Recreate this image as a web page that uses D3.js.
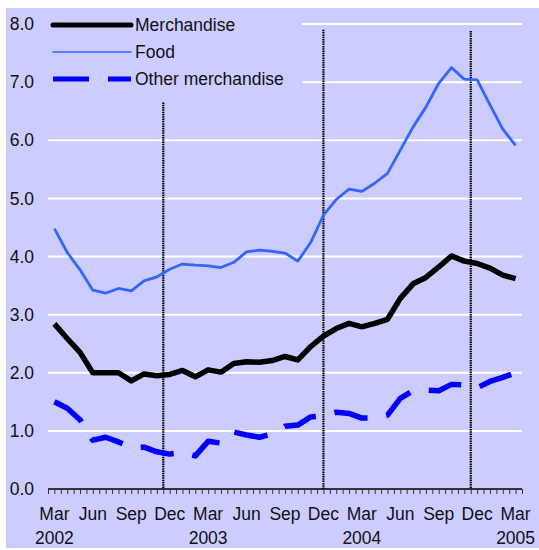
<!DOCTYPE html>
<html lang="en">
<head>
<meta charset="utf-8">
<title>Merchandise, food and other merchandise</title>
<script src="https://cdn.jsdelivr.net/npm/d3@7"></script>
<style>
  body { margin: 0; background: #fff; }
  text { font-family: "Liberation Sans", Arial, sans-serif; fill: #111; }
</style>
</head>
<body>
<div id="chart"></div>
<script>
// monthly observations, Mar 2002 .. Mar 2005
var months = ["Mar 2002","Apr 2002","May 2002","Jun 2002","Jul 2002","Aug 2002","Sep 2002","Oct 2002","Nov 2002","Dec 2002",
              "Jan 2003","Feb 2003","Mar 2003","Apr 2003","May 2003","Jun 2003","Jul 2003","Aug 2003","Sep 2003","Oct 2003","Nov 2003","Dec 2003",
              "Jan 2004","Feb 2004","Mar 2004","Apr 2004","May 2004","Jun 2004","Jul 2004","Aug 2004","Sep 2004","Oct 2004","Nov 2004","Dec 2004",
              "Jan 2005","Feb 2005","Mar 2005"];

var merchandise = [2.84, 2.59, 2.35, 2.00, 2.00, 2.00, 1.86, 1.98, 1.95, 1.97, 2.04, 1.93,
                   2.05, 2.01, 2.16, 2.19, 2.18, 2.21, 2.28, 2.22, 2.45, 2.63, 2.76, 2.85,
                   2.79, 2.85, 2.92, 3.28, 3.53, 3.64, 3.82, 4.01, 3.92, 3.88, 3.80, 3.68, 3.62];

var food = [4.48, 4.07, 3.77, 3.42, 3.37, 3.45, 3.41, 3.58, 3.65, 3.78, 3.87, 3.85,
            3.84, 3.81, 3.90, 4.08, 4.11, 4.09, 4.06, 3.92, 4.24, 4.71, 4.98, 5.16,
            5.12, 5.26, 5.43, 5.83, 6.23, 6.57, 6.98, 7.25, 7.05, 7.04, 6.61, 6.19, 5.91];

var otherMerch = [1.50, 1.39, 1.19, 0.84, 0.89, 0.81, 0.71, 0.72, 0.64, 0.60, 0.63, 0.57,
                  0.82, 0.79, 0.98, 0.93, 0.89, 0.95, 1.08, 1.10, 1.24, 1.26, 1.32, 1.30,
                  1.22, 1.22, 1.27, 1.56, 1.69, 1.70, 1.69, 1.80, 1.79, 1.74, 1.85, 1.92, 2.00];

var yTicks = [0, 1, 2, 3, 4, 5, 6, 7, 8];
var monthTickIdx = [0, 3, 6, 9, 12, 15, 18, 21, 24, 27, 30, 33, 36];
var monthTickLabels = ["Mar","Jun","Sep","Dec","Mar","Jun","Sep","Dec","Mar","Jun","Sep","Dec","Mar"];
var yearTickIdx = [0, 12, 24, 36];
var yearTickLabels = ["2002","2003","2004","2005"];

// dotted markers (position in month index, top in y units)
var markerPos = [8.5, 21, 32.5];
var markerTop = [6.65, 7.9, 7.88];

var series = [
  {name: "Merchandise", values: merchandise, color: "#000000", width: 5.5, dash: null},
  {name: "Food", values: food, color: "#3366ff", width: 2.8, dash: null},
  {name: "Other merchandise", values: otherMerch, color: "#0000ff", width: 5.5, dash: "34,19"}
];

var W = 539, H = 550;
var plotLeft = 48, plotRight = 522, plotTop = 24, plotBottom = 489;
var fontSize = "17.5px";

var svg = d3.select("#chart").append("svg")
    .attr("width", W)
    .attr("height", H);

svg.append("rect")
    .attr("x", 6).attr("y", 8)
    .attr("width", W - 6).attr("height", H - 10)
    .attr("fill", "#ccccff");

var x = d3.scaleLinear().domain([-0.5, months.length - 0.5]).range([plotLeft, plotRight]);
var y = d3.scaleLinear().domain([0, 8]).range([plotBottom, plotTop]);

// gridlines
svg.selectAll("line.grid")
   .data(yTicks.filter(function(d) { return d > 0; }))
   .enter()
   .append("line")
   .attr("class", "grid")
   .attr("x1", plotLeft).attr("x2", plotRight)
   .attr("y1", function(d) { return y(d); })
   .attr("y2", function(d) { return y(d); })
   .attr("stroke", "#fff")
   .attr("stroke-width", 2);

// y labels
svg.selectAll("text.ylab")
   .data(yTicks)
   .enter()
   .append("text")
   .attr("class", "ylab")
   .attr("x", 34)
   .attr("y", function(d) { return y(d); })
   .attr("dy", "0.35em")
   .attr("text-anchor", "end")
   .attr("font-size", fontSize)
   .text(function(d) { return d3.format(".1f")(d); });

// x axis with half-month ticks
var xAxis = d3.axisBottom(x)
    .tickValues(d3.range(-0.5, months.length, 0.5))
    .tickSize(5)
    .tickFormat("");
var gx = svg.append("g")
    .attr("transform", "translate(0," + plotBottom + ")")
    .call(xAxis);
gx.select(".domain").attr("stroke", "#000").attr("stroke-width", 1.5).attr("d", "M" + plotLeft + ",0H" + plotRight);
gx.selectAll(".tick line").attr("stroke", "#333");

svg.selectAll("text.mlab")
   .data(monthTickIdx)
   .enter()
   .append("text")
   .attr("class", "mlab")
   .attr("x", function(d) { return x(d); })
   .attr("y", 520)
   .attr("text-anchor", "middle")
   .attr("font-size", fontSize)
   .text(function(d, i) { return monthTickLabels[i]; });

svg.selectAll("text.yrlab")
   .data(yearTickIdx)
   .enter()
   .append("text")
   .attr("class", "yrlab")
   .attr("x", function(d) { return x(d); })
   .attr("y", 544)
   .attr("text-anchor", "middle")
   .attr("font-size", fontSize)
   .text(function(d, i) { return yearTickLabels[i]; });

// dotted vertical markers
svg.selectAll("line.marker")
   .data(markerPos)
   .enter()
   .append("line")
   .attr("class", "marker")
   .attr("x1", function(d) { return x(d); })
   .attr("x2", function(d) { return x(d); })
   .attr("y1", function(d, i) { return y(markerTop[i]); })
   .attr("y2", plotBottom)
   .attr("stroke", "#000")
   .attr("stroke-width", 2.2)
   .attr("stroke-dasharray", "1.5,0.8");

// series lines
var line = d3.line()
    .x(function(d, i) { return x(i); })
    .y(function(d) { return y(d); });

series.slice().reverse().forEach(function(s) {
  svg.append("path")
     .datum(s.values)
     .attr("d", line)
     .attr("fill", "none")
     .attr("stroke", s.color)
     .attr("stroke-width", s.width)
     .attr("stroke-linejoin", "round")
     .attr("stroke-dasharray", s.dash);
});

// legend
var legend = svg.append("g");
legend.append("rect")
    .attr("x", plotLeft).attr("y", 10)
    .attr("width", 254).attr("height", 80)
    .attr("fill", "#ccccff");

var items = legend.selectAll("g.item")
    .data(series)
    .enter()
    .append("g")
    .attr("class", "item")
    .attr("transform", function(d, i) { return "translate(0," + (25 + i * 27) + ")"; });

items.append("line")
    .attr("x1", 53).attr("x2", 131)
    .attr("y1", 0).attr("y2", 0)
    .attr("stroke", function(d) { return d.color; })
    .attr("stroke-width", function(d) { return d.dash ? 5 : (d.width > 3 ? 5 : 1.5); })
    .attr("stroke-linecap", function(d) { return d.dash ? "butt" : "round"; })
    .attr("stroke-dasharray", function(d) { return d.dash ? "36,19" : null; });

items.append("text")
    .attr("x", 135)
    .attr("y", 0)
    .attr("dy", "0.35em")
    .attr("font-size", fontSize)
    .text(function(d) { return d.name; });
</script>
</body>
</html>
